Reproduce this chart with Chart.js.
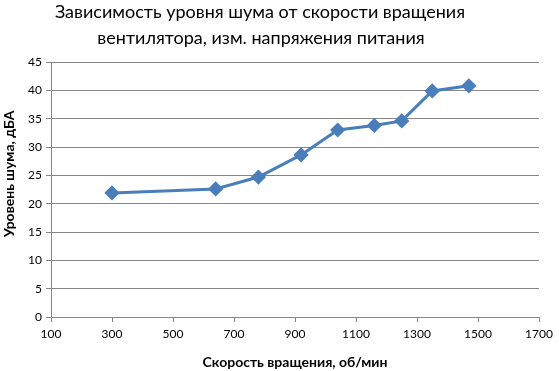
<!DOCTYPE html>
<html><head><meta charset="utf-8">
<script src="https://cdn.jsdelivr.net/npm/chart.js@4"></script>
<style>html,body{margin:0;padding:0;background:#fff}#w{width:559px;height:371px}</style>
</head><body><div id="w"><canvas id="c" width="559" height="371"></canvas></div>
<script>
const speedRpm = [300, 640, 780, 920, 1040, 1160, 1250, 1350, 1470];
const noiseDb = [21.9, 22.6, 24.7, 28.6, 33.0, 33.8, 34.6, 39.9, 40.8];
const titleLines = ['Зависимость уровня шума от скорости вращения', 'вентилятора, изм. напряжения питания'];
const xTitle = 'Скорость вращения, об/мин';
const yTitle = 'Уровень шума, дБА';

const FONT = 'Lato, "Liberation Sans", sans-serif';
const grid = '#868686';
const textPlugin = {
  id: 'extraText',
  afterDraw(chart) {
    const ctx = chart.ctx;
    ctx.save();
    ctx.fillStyle = '#000';
    ctx.font = '18px ' + FONT;
    ctx.textAlign = 'center';
    ctx.textBaseline = 'middle';
    ctx.fillText(titleLines[0], 260, 12);
    ctx.fillText(titleLines[1], 261, 38);
    ctx.font = 'bold 14px ' + FONT;
    ctx.translate(9, 174);
    ctx.rotate(-Math.PI / 2);
    ctx.fillText(yTitle, 0, 0);
    ctx.restore();
  }
};
new Chart(document.getElementById('c'), {
  type: 'scatter',
  data: { datasets: [{
    data: speedRpm.map((x, i) => ({x, y: noiseDb[i]})),
    showLine: true,
    borderColor: '#4a7ebb', backgroundColor: '#4a7ebb',
    borderWidth: 3, pointStyle: 'rectRot', pointRadius: 5.5, pointHoverRadius: 5.5
  }]},
  plugins: [textPlugin],
  options: {
    responsive: false, animation: false, devicePixelRatio: 1,
    layout: { padding: { top: 62, right: 20, bottom: 0, left: 0 } },
    plugins: { legend: { display: false }, tooltip: { enabled: false }, title: { display: false } },
    scales: {
      x: { type: 'linear', min: 100, max: 1700,
        ticks: { stepSize: 200, color: '#000', font: { family: FONT, size: 12 }, padding: 5, callback: v => String(v) },
        grid: { drawOnChartArea: false, drawTicks: true, tickLength: 5, color: grid },
        border: { color: grid },
        title: { display: true, text: xTitle, color: '#000', font: { family: FONT, size: 14, weight: 'bold' }, padding: { top: 18, bottom: 0 } },
        afterFit: s => { s.height = 54; }
      },
      y: { min: 0, max: 45,
        ticks: { stepSize: 5, color: '#000', font: { family: FONT, size: 12 }, padding: 4 },
        grid: { color: grid, tickLength: 5 },
        border: { color: grid },
        title: { display: false },
        afterFit: s => { s.width = 51; }
      }
    }
  }
});
</script></body></html>
